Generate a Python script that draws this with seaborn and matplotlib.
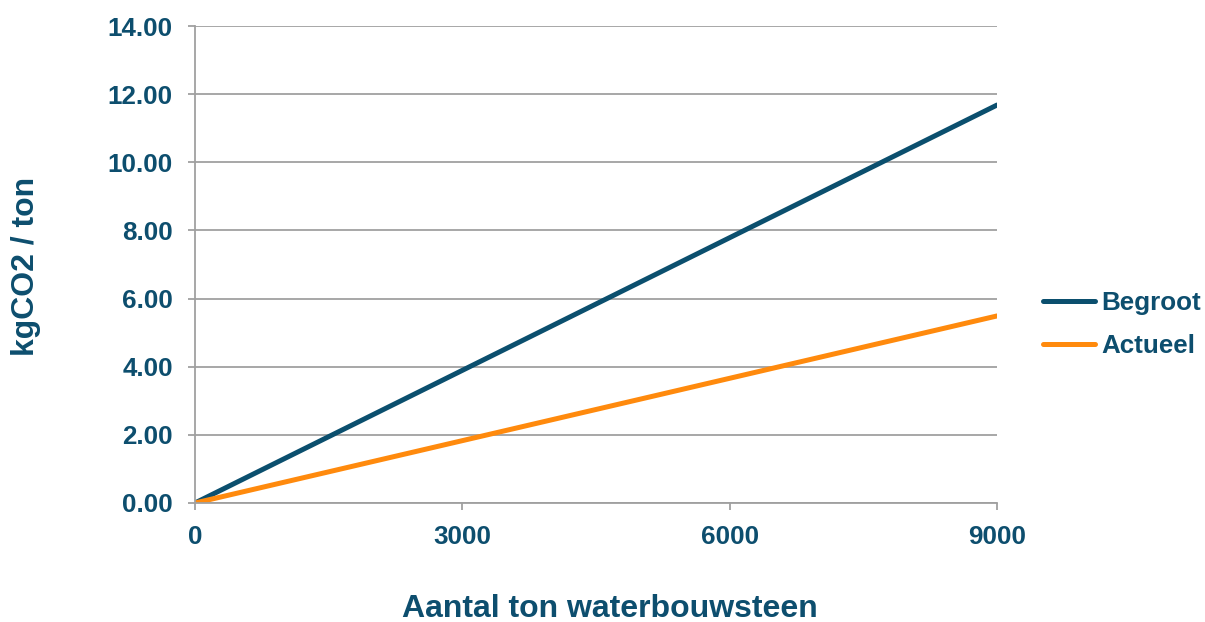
import matplotlib
matplotlib.use("Agg")
import matplotlib.pyplot as plt
import seaborn as sns
import pandas as pd
from matplotlib.lines import Line2D

# Data
x_values = [0, 9000]
series_names = ["Begroot", "Actueel"]
begroot = [0.0, 11.68]
actueel = [0.0, 5.49]
x_ticks = [0, 3000, 6000, 9000]
y_ticks = [0, 2, 4, 6, 8, 10, 12, 14]

df = pd.DataFrame({
    "x": x_values * 2,
    "y": begroot + actueel,
    "serie": [series_names[0]] * 2 + [series_names[1]] * 2,
})

sns.set_style("white")
plt.rcParams['font.family'] = ['Liberation Sans', 'DejaVu Sans']
plt.rcParams['font.weight'] = 'bold'

TEXT = "#0D4E6E"
BLUE = "#0B4F6E"
ORANGE = "#FF8A0D"
GRID = "#A0A0A0"

fig = plt.figure(figsize=(12.05, 6.22), dpi=100)
ax = fig.add_axes([195/1205, 1-503/622, (997-195)/1205, (503-26)/622])

sns.lineplot(data=df, x="x", y="y", hue="serie", palette=[BLUE, ORANGE],
             linewidth=3.6, ax=ax, legend=False, solid_capstyle="round")

ax.set_xlim(0, 9000)
ax.set_ylim(0, 14)
ax.set_xticks(x_ticks)
ax.set_xticklabels([str(v) for v in x_ticks])
ax.set_yticks(y_ticks)
ax.set_yticklabels([f"{v:.2f}" for v in y_ticks])
ax.set_xlabel("")
ax.set_ylabel("")

ax.yaxis.grid(True, color=GRID, linewidth=1.3)
ax.xaxis.grid(False)
for s in ["top", "right"]:
    ax.spines[s].set_visible(False)
for s in ["left", "bottom"]:
    ax.spines[s].set_color(GRID)
    ax.spines[s].set_linewidth(1.3)

ax.tick_params(axis="both", colors=GRID, labelcolor=TEXT, labelsize=18.7,
               length=5, width=1.3, pad=11, direction="out")
ax.tick_params(axis="x", bottom=True)
ax.tick_params(axis="y", left=True)
for lbl in ax.get_xticklabels() + ax.get_yticklabels():
    lbl.set_fontweight("bold")

fig.text(610/1205, 1-617/622, "Aantal ton waterbouwsteen", ha="center", va="baseline",
         fontsize=23, fontweight="bold", color=TEXT)
fig.text(26/1205, 1-266/622, "kgCO2 / ton", ha="center", va="center", rotation=90,
         fontsize=23, fontweight="bold", color=TEXT)

handles = [Line2D([0], [0], color=BLUE, linewidth=3.6, solid_capstyle="round"),
           Line2D([0], [0], color=ORANGE, linewidth=3.6, solid_capstyle="round")]
leg = fig.legend(handles, series_names, loc="center left",
                 bbox_to_anchor=(1043/1205, 1-324.5/622), frameon=False,
                 borderpad=0, borderaxespad=0, handlelength=2.0, handletextpad=0.25,
                 labelspacing=0.75, prop={"size": 18.7, "weight": "bold"})
for t in leg.get_texts():
    t.set_color(TEXT)

fig.savefig("out.png", dpi=100)
